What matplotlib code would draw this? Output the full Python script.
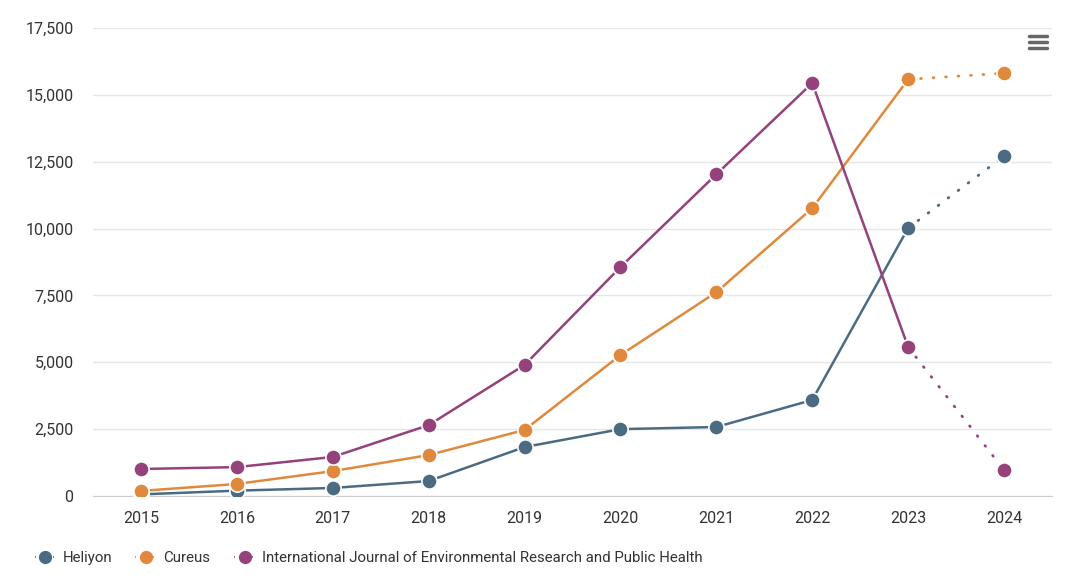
import matplotlib
matplotlib.use("Agg")
import matplotlib.pyplot as plt
from matplotlib.lines import Line2D
from matplotlib.ticker import FuncFormatter

years = [2015, 2016, 2017, 2018, 2019, 2020, 2021, 2022, 2023, 2024]
heliyon = [60, 200, 300, 560, 1830, 2500, 2580, 3590, 10020, 12710]
cureus = [190, 450, 930, 1530, 2470, 5270, 7620, 10760, 15580, 15810]
ijerph = [1010, 1080, 1460, 2650, 4900, 8560, 12030, 15440, 5570, 970]
series_names = ["Heliyon", "Cureus",
                "International Journal of Environmental Research and Public Health"]
colors = ["#4b6b83", "#e0893c", "#94417c"]
yticks = [0, 2500, 5000, 7500, 10000, 12500, 15000, 17500]

plt.rcParams['font.family'] = ['Roboto', 'DejaVu Sans']

fig = plt.figure(figsize=(10.8, 5.85), dpi=100)
ax = fig.add_axes([93/1080, 1-496/585, (1052-93)/1080, (496-28)/585])

for vals, col in zip([heliyon, cureus, ijerph], colors):
    ax.plot(years[:-1], vals[:-1], color=col, lw=1.8, zorder=3)
    ax.plot(years[-2:], vals[-2:], color=col, lw=2, ls=(0, (0.3, 4.2)),
            dash_capstyle='round', zorder=3)
    ax.plot(years, vals, ls='none', marker='o', ms=11, mfc=col,
            mec='white', mew=1.2, zorder=4)

ax.set_ylim(0, 17500)
ax.set_xlim(2015 - 0.5, 2024 + 0.5)
ax.set_yticks(yticks)
ax.yaxis.set_major_formatter(FuncFormatter(lambda v, p: f"{int(v):,}"))
ax.set_xticks(years)
ax.grid(axis='y', color='#e6e6e6', lw=1)
ax.set_axisbelow(True)
for s in ['top', 'right', 'left']:
    ax.spines[s].set_visible(False)
ax.spines['bottom'].set_color('#cccccc')
ax.tick_params(axis='y', length=0, pad=14, labelsize=11.5, labelcolor='#333333')
ax.tick_params(axis='x', length=0, pad=11, labelsize=11.5, labelcolor='#333333')

handles = [Line2D([0], [0], color=c, lw=1.5, ls=(0, (0.4, 2.5)), marker='o', ms=8.5,
                  mfc=c, mec=c) for c in colors]
fig.legend(handles, series_names, loc='lower left', bbox_to_anchor=(21/1080, 6/585),
           ncol=3, frameon=False, fontsize=10.85, handlelength=1.45,
           handletextpad=0.4, columnspacing=1.55, labelcolor='#333333')

# menu icon
for yy in [36, 42, 48]:
    fig.add_artist(Line2D([1029/1080, 1047/1080], [1-yy/585, 1-yy/585],
                          color='#666666', lw=2.5, solid_capstyle='round'))

fig.savefig("out.png", dpi=100, facecolor='white')
